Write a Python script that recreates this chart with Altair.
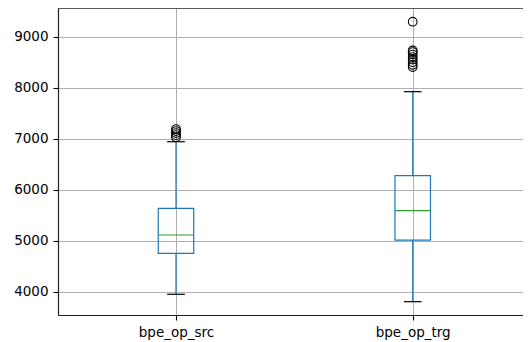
import altair as alt
import pandas as pd

# Data
categories = ["bpe_op_src", "bpe_op_trg"]
positions = [1, 2]
q1 = [4753, 5010]
median = [5112, 5588]
q3 = [5635, 6275]
whisker_low = [3949, 3804]
whisker_high = [6941, 7922]
outliers_src = [7030, 7070, 7110, 7150, 7190]
outliers_trg = [8405, 8450, 8500, 8550, 8600, 8650, 8700, 8730, 9294]
y_ticks = [4000, 5000, 6000, 7000, 8000, 9000]

BOX_HALF = 0.075
CAP_HALF = 0.0375

stats = pd.DataFrame({
    "cat": categories,
    "pos": positions,
    "q1": q1,
    "median": median,
    "q3": q3,
    "lo": whisker_low,
    "hi": whisker_high,
})
stats["bx1"] = stats["pos"] - BOX_HALF
stats["bx2"] = stats["pos"] + BOX_HALF
stats["cx1"] = stats["pos"] - CAP_HALF
stats["cx2"] = stats["pos"] + CAP_HALF

out = pd.DataFrame({
    "pos": [1] * len(outliers_src) + [2] * len(outliers_trg),
    "value": outliers_src + outliers_trg,
})

xscale = alt.Scale(domain=[0.5015, 2.466], nice=False, zero=False)
yscale = alt.Scale(domain=[3543, 9563], nice=False, zero=False)

label_expr = "datum.value == 1 ? 'bpe_op_src' : (datum.value == 2 ? 'bpe_op_trg' : '')"

common_axis = dict(title=None, grid=True, gridColor="#b0b0b0", gridWidth=1,
                   tickColor="#000", tickSize=5, tickWidth=1.1,
                   labelFontSize=13.5, labelColor="#000",
                   labelFont="DejaVu Sans", domain=True, domainColor="#222222",
                   domainWidth=1.2, labelPadding=5)
xaxis = alt.Axis(values=positions, labelExpr=label_expr, **common_axis)
yaxis = alt.Axis(values=y_ticks, format="d", **common_axis)

base = alt.Chart(stats)

blue = "#1f77b4"
LW = 1.2

whisk_lo = base.mark_rule(color=blue, strokeWidth=LW).encode(
    x=alt.X("pos:Q", scale=xscale, axis=xaxis),
    y=alt.Y("lo:Q", scale=yscale, axis=yaxis),
    y2="q1:Q",
)
whisk_hi = base.mark_rule(color=blue, strokeWidth=LW).encode(
    x=alt.X("pos:Q", scale=xscale),
    y=alt.Y("q3:Q", scale=yscale),
    y2="hi:Q",
)
box = base.mark_rect(fill="white", fillOpacity=0, stroke=blue, strokeWidth=LW).encode(
    x=alt.X("bx1:Q", scale=xscale),
    x2="bx2:Q",
    y=alt.Y("q1:Q", scale=yscale),
    y2="q3:Q",
)
med = base.mark_rule(color="#2ca02c", strokeWidth=LW).encode(
    x=alt.X("bx1:Q", scale=xscale),
    x2="bx2:Q",
    y=alt.Y("median:Q", scale=yscale),
)
cap_lo = base.mark_rule(color="black", strokeWidth=LW).encode(
    x=alt.X("cx1:Q", scale=xscale),
    x2="cx2:Q",
    y=alt.Y("lo:Q", scale=yscale),
)
cap_hi = base.mark_rule(color="black", strokeWidth=LW).encode(
    x=alt.X("cx1:Q", scale=xscale),
    x2="cx2:Q",
    y=alt.Y("hi:Q", scale=yscale),
)
fliers = alt.Chart(out).mark_point(shape="circle", filled=False, color="black",
                                   size=75, strokeWidth=1.1, opacity=1).encode(
    x=alt.X("pos:Q", scale=xscale),
    y=alt.Y("value:Q", scale=yscale),
)
# top spine of the axes frame (the right spine lies outside the picture)
top_spine = base.mark_rule(color="#222222", strokeWidth=1.2).encode(
    x=alt.value(0), x2=alt.value(465), y=alt.value(0)
)

chart = alt.layer(whisk_lo, whisk_hi, box, med, cap_lo, cap_hi, fliers, top_spine).properties(
    width=465, height=307,
    autosize=alt.AutoSizeParams(type="none"),
    padding={"left": 50, "top": 0, "right": 0, "bottom": 30},
    background="white",
).configure_view(strokeWidth=0)

chart.save("out.html", embed_options={"renderer": "svg", "actions": False})
